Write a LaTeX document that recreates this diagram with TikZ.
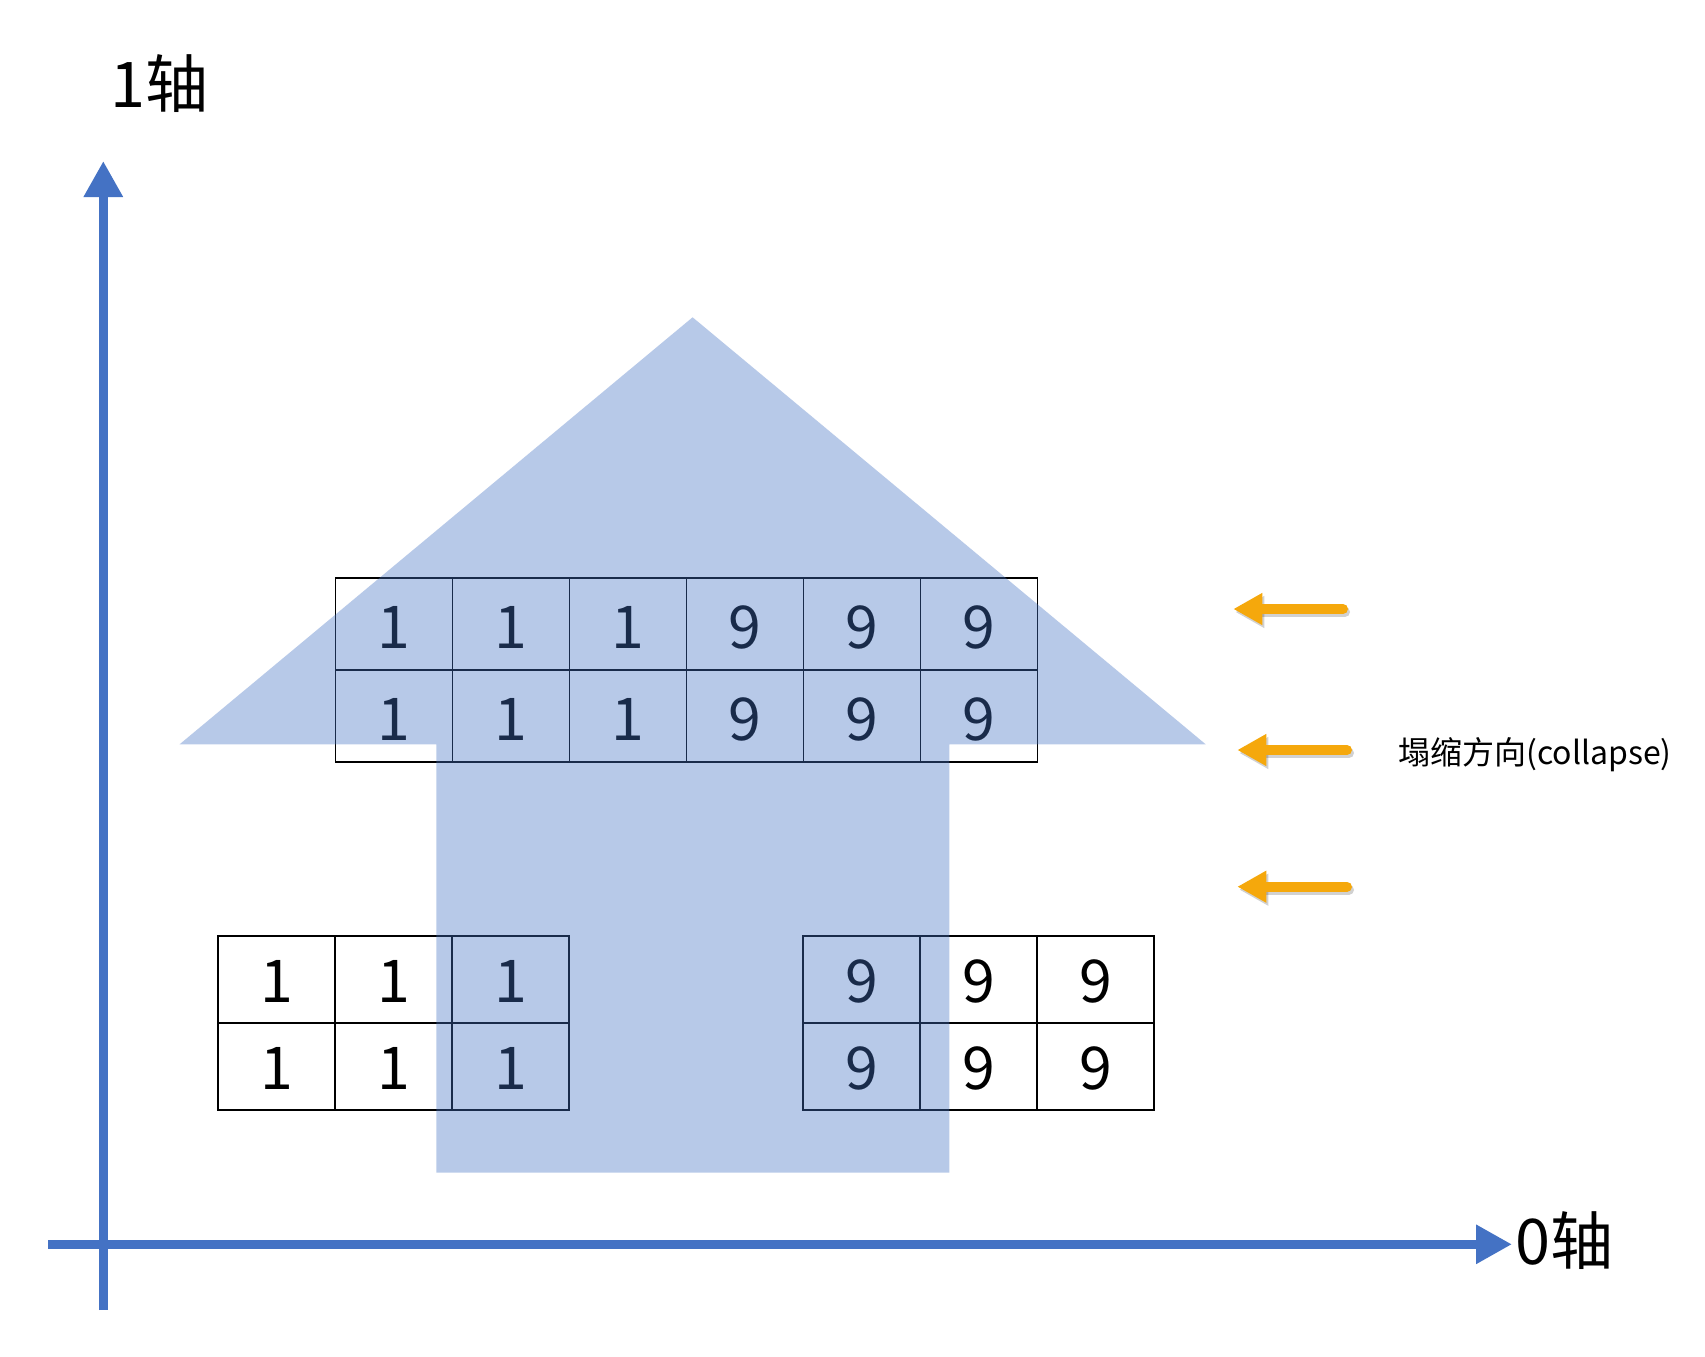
\documentclass[tikz,border=0pt]{standalone}
\usepackage{fontspec}
\setmainfont{Noto Sans CJK SC}
\usetikzlibrary{arrows.meta}
\definecolor{axisblue}{RGB}{68,114,196}
\definecolor{goldarrow}{RGB}{245,168,12}
\begin{document}
\begin{tikzpicture}[x=1pt,y=-1pt,
  axisline/.style={draw=axisblue, line width=9pt, line cap=butt,
    -{Triangle[length=36pt,width=37pt]}},
  cellbox/.style={draw=black, line width=1.2pt, minimum width=117pt,
    inner sep=0pt, anchor=north west, font=\fontsize{59}{59}\selectfont},
  toprow/.style={cellbox, minimum height=92pt, text height=50pt, text depth=0pt},
  botrow/.style={cellbox, minimum height=87pt, text height=47pt, text depth=0pt},
  bigarrow/.style={fill=axisblue, fill opacity=0.38, draw=none},
  collarrow/.style={draw=goldarrow, line width=10pt, line cap=round,
    -{Triangle[length=29pt,width=30pt]}},
  collshadow/.style={draw=black, draw opacity=0.18, line width=10pt, line cap=round,
    -{Triangle[length=29pt,width=30pt]}},
  axislabel/.style={anchor=base west, inner sep=0pt, font=\fontsize{63}{63}\selectfont},
]
\useasboundingbox (0,0) rectangle (1705,1357);
\fill[white] (0,0) rectangle (1705,1357);

% top grid 2x6
\foreach \v [count=\i] in {1,1,1,9,9,9}{
  \node[toprow] (ta\i) at ({334.5+117*(\i-1)},577.3) {\v};
  \node[toprow] (tb\i) at ({334.5+117*(\i-1)},669.3) {\v};
}
% bottom-left grid
\foreach \i in {1,2,3}{
  \node[botrow] (la\i) at ({217.3+117*(\i-1)},935.3) {1};
  \node[botrow] (lb\i) at ({217.3+117*(\i-1)},1022.3) {1};
}
% bottom-right grid
\foreach \i in {1,2,3}{
  \node[botrow] (ra\i) at ({802.3+117*(\i-1)},935.3) {9};
  \node[botrow] (rb\i) at ({802.3+117*(\i-1)},1022.3) {9};
}

% big translucent arrow
\path[bigarrow] (692.6,317.3) -- (1205.7,744.3) -- (949.3,744.3) -- (949.3,1172.7)
  -- (436.3,1172.7) -- (436.3,744.3) -- (179.6,744.3) -- cycle;

% axes
\coordinate (ybot) at (103.3,1310);
\coordinate (ytop) at (103.3,161);
\coordinate (xleft) at (48,1244.3);
\coordinate (xright) at (1512,1244.3);
\draw[axisline] (ybot) -- (ytop);
\draw[axisline] (xleft) -- (xright);
\node[axislabel] (lab1) at (110,107) {1轴};
\node[axislabel] (lab0) at (1515,1264) {0轴};

% collapse arrows
\coordinate (c1s) at (1343,609);   \coordinate (c1e) at (1233.3,609);
\coordinate (c2s) at (1347,750);   \coordinate (c2e) at (1237.3,750);
\coordinate (c3s) at (1347,886.7); \coordinate (c3e) at (1237.3,886.7);
\foreach \n in {1,2,3}{
  \draw[collshadow, transform canvas={shift={(2pt,-3pt)}}] (c\n s) -- (c\n e);
  \draw[collarrow] (c\n s) -- (c\n e);
}
\node[anchor=base west, inner sep=0pt, font=\fontsize{32}{32}\selectfont] (colllab)
  at (1398,764) {塌缩方向(collapse)};
\end{tikzpicture}
\end{document}
